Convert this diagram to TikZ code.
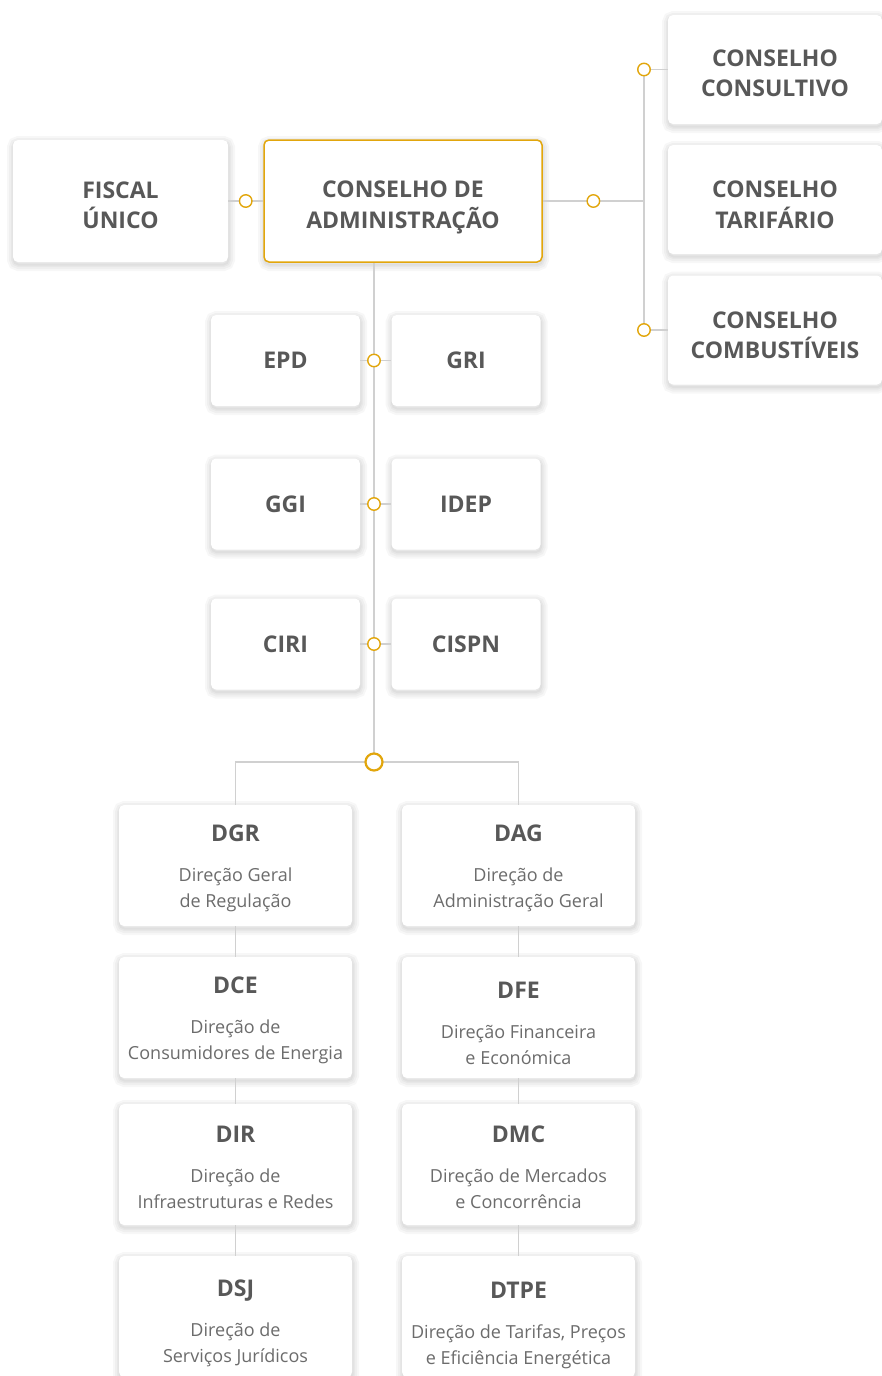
\documentclass[tikz,border=0pt]{standalone}
\usepackage{fontspec}
\setmainfont{Open Sans}
\usetikzlibrary{calc,positioning}

\definecolor{orggold}{HTML}{E2A60C}
\definecolor{orgtext}{HTML}{585858}
\definecolor{orgdesc}{HTML}{6C6C6C}
\definecolor{orgline}{HTML}{D0D0D0}

\newcommand{\titlefont}{\fontsize{23}{30.5}\selectfont\bfseries}
\newcommand{\descfont}{\fontsize{18}{25.5}\selectfont}
\newcommand{\pad}[1]{\rule{0pt}{#1pt}}
\newcommand{\dirtitle}[2][22.5]{{\titlefont\color{orgtext}\pad{#1}#2}\\[14.5pt]}

\tikzset{
  softshade/.style={preaction={draw=black, draw opacity=0.03, line width=#1,
    transform canvas={xshift=0.5pt, yshift=-2.5pt}}},
  card/.style={fill=white, rounded corners=5pt, align=center, inner sep=0pt,
    text=orgtext, font=\titlefont,
    softshade=13pt, softshade=9pt, softshade=5pt, softshade=2pt},
  sidecard/.style={card, minimum width=214pt, minimum height=109pt},
  smallcard/.style={card, minimum width=149pt, minimum height=91pt},
  dircard/.style={card, minimum width=233pt, minimum height=121pt,
    font=\descfont, text=orgdesc},
  link/.style={draw=orgline, line width=1.3pt},
  dot/.style={circle, draw=orggold, fill=white, line width=1.4pt,
    minimum size=12.5pt, inner sep=0pt},
  bigdot/.style={dot, line width=2.2pt, minimum size=17pt}
}

\begin{document}
\begin{tikzpicture}[x=1pt, y=-1pt]
\useasboundingbox[fill=white] (0,0) rectangle (882,1376);

% board and councils
\node[card, minimum width=215pt, minimum height=122pt] (fiscal) at (120.5,201) {\pad{25}FISCAL\\ÚNICO};
\node[card, draw=orggold, line width=1.5pt, minimum width=278pt, minimum height=122pt] (admin) at (403,201) {\pad{30}CONSELHO DE\\ADMINISTRAÇÃO};

\node[sidecard] (consult) at (775,69.5) {\pad{24}CONSELHO\\CONSULTIVO};
\node[sidecard] (tarif) at (775,199.5) {\pad{27}CONSELHO\\TARIFÁRIO};
\node[sidecard] (combust) at (775,330) {\pad{27}CONSELHO\\COMBUSTÍVEIS};

% committees
\node[smallcard] (epd) at (285.5,360.5) {EPD};
\node[smallcard] (gri) at (466,360.5) {GRI};
\node[smallcard] (ggi) at (285.5,504) {GGI};
\node[smallcard] (idep) at (466,504) {IDEP};
\node[smallcard] (ciri) at (285.5,644) {CIRI};
\node[smallcard] (cispn) at (466,644) {CISPN};

% directorates
\node[dircard] (dgr) at (235.5,865.5) {\dirtitle{DGR}Direção Geral\\de Regulação};
\node[dircard] (dag) at (518.5,865.5) {\dirtitle{DAG}Direção de\\Administração Geral};
\node[dircard] (dce) at (235.5,1017.5) {\dirtitle{DCE}Direção de\\Consumidores de Energia};
\node[dircard] (dfe) at (518.5,1017.5) {\dirtitle[28.5]{DFE}Direção Financeira\\e Económica};
\node[dircard] (dir) at (235.5,1164.5) {\dirtitle{DIR}Direção de\\Infraestruturas e Redes};
\node[dircard] (dmc) at (518.5,1164.5) {\dirtitle{DMC}Direção de Mercados\\e Concorrência};
\node[dircard] (dsj) at (235.5,1316.5) {\dirtitle[30]{DSJ}Direção de\\Serviços Jurídicos};
\node[dircard] (dtpe) at (518.5,1316.5) {\dirtitle[34]{DTPE}Direção de Tarifas, Preços\\e Eficiência Energética};

\coordinate (hub) at (374,762);
\coordinate (bus) at (644,201);

% connectors
\draw[link] (fiscal) -- (admin);
\draw[link] (admin) -- (bus);
\draw[link] (consult.west -| bus) -- (combust.west -| bus);
\draw[link] (consult.west -| bus) -- (consult);
\draw[link] (combust.west -| bus) -- (combust);
\draw[link] (admin.south -| hub) -- (hub);
\draw[link] (epd) -- (gri);
\draw[link] (ggi) -- (idep);
\draw[link] (ciri) -- (cispn);
\draw[link] (dgr.north) |- (hub) -| (dag.north);
\draw[link] (dgr) -- (dce) -- (dir) -- (dsj);
\draw[link] (dag) -- (dfe) -- (dmc) -- (dtpe);

% junction dots
\node[dot] (jfiscal) at ($(fiscal.east)!0.5!(admin.west)$) {};
\node[dot] (jadmin) at ($(admin.east)!0.5!(bus)$) {};
\node[dot] (jconsult) at (consult.west -| bus) {};
\node[dot] (jcombust) at (combust.west -| bus) {};
\node[dot] (jepd) at (epd.east -| hub) {};
\node[dot] (jggi) at (ggi.east -| hub) {};
\node[dot] (jciri) at (ciri.east -| hub) {};
\node[bigdot] (jhub) at (hub) {};
\end{tikzpicture}
\end{document}
